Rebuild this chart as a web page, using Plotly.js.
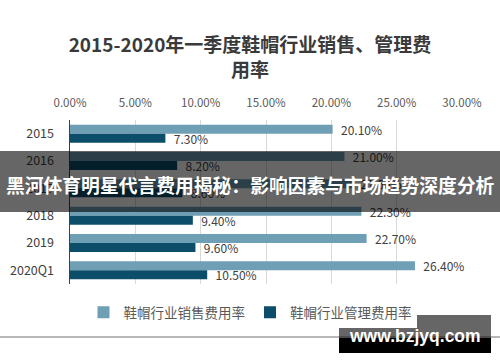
<!DOCTYPE html>
<html>
<head>
<meta charset="utf-8">
<script src="https://cdn.plot.ly/plotly-3.0.1.min.js"></script>
<style>html,body{margin:0;padding:0;background:#fff;}#chart{width:500px;height:362px;}</style>
</head>
<body>
<div id="chart"></div>
<script>
const categories = ['2015', '2016', '2017', '2018', '2019', '2020Q1'];
const salesRate = [20.1, 21.0, 21.6, 22.3, 22.7, 26.4];
const mgmtRate = [7.3, 8.2, 8.6, 9.4, 9.6, 10.5];
const seriesNames = ['鞋帽行业销售费用率', '鞋帽行业管理费用率'];
const xTicks = [0, 5, 10, 15, 20, 25, 30];
const xTickText = ['0.00%', '5.00%', '10.00%', '15.00%', '20.00%', '25.00%', '30.00%'];
const titleText = '2015-2020年一季度鞋帽行业销售、管理费<br>用率';
const bannerText = '黑河体育明星代言费用揭秘：影响因素与市场趋势深度分析';
const watermarkText = 'www.bzjyq.com';

const FONT = '"Noto Sans CJK SC", "Noto Sans", sans-serif';
const W = 500, H = 362, ML = 70, MR = 38, MT = 120, MB = 78;
const PW = W - ML - MR, PH = H - MT - MB;
const px = x => (x - ML) / PW;
const py = y => (H - MB - y) / PH;
const PAD = '\u00a0\u00a0';

const traces = [
  {type: 'bar', orientation: 'h', name: seriesNames[0], y: categories, x: salesRate,
   marker: {color: '#6f9fb4'}, texttemplate: PAD + '%{x:.2f}%',
   textposition: 'outside', cliponaxis: false, constraintext: 'none',
   textfont: {family: FONT, size: 12, color: '#404040'}, hoverinfo: 'x+y'},
  {type: 'bar', orientation: 'h', name: seriesNames[1], y: categories, x: mgmtRate,
   marker: {color: '#0c4e69'}, texttemplate: PAD + '%{x:.2f}%',
   textposition: 'outside', cliponaxis: false, constraintext: 'none',
   textfont: {family: FONT, size: 12, color: '#404040'}, hoverinfo: 'x+y'}
];

const layout = {
  width: W, height: H,
  margin: {l: ML, r: MR, t: MT, b: MB},
  paper_bgcolor: '#fff', plot_bgcolor: '#fff',
  font: {family: FONT, color: '#404040'},
  uniformtext: {mode: false},
  title: {text: titleText, font: {family: FONT, size: 19, color: '#3a3a3a', weight: 'bold'},
          x: 0.5, xanchor: 'center', xref: 'container', y: 0.855, yanchor: 'top', yref: 'container'},
  barmode: 'group', bargap: 0.34, bargroupgap: 0,
  xaxis: {side: 'top', range: [0, 30], tickvals: xTicks, ticktext: xTickText,
          showgrid: true, gridcolor: '#d9d9d9', gridwidth: 1, zeroline: false, showline: false,
          ticks: '', ticklabelstandoff: 10, tickfont: {family: FONT, size: 11.5, color: '#595959'}, fixedrange: true},
  yaxis: {autorange: 'reversed', type: 'category', showgrid: false, zeroline: false,
          showline: true, linecolor: '#404040', linewidth: 1.5, ticks: '', ticklabelstandoff: 12,
          tickfont: {family: FONT, size: 12.5, color: '#404040'}, fixedrange: true},
  showlegend: true,
  legend: {orientation: 'h', x: 0.5, xanchor: 'center', xref: 'container',
           y: 1 - 297 / H, yanchor: 'top', yref: 'container',
           font: {family: FONT, size: 13.5, color: '#595959'}, itemwidth: 30, traceorder: 'normal'},
  shapes: [
    {type: 'line', xref: 'paper', yref: 'paper', x0: px(0), x1: px(W), y0: py(337), y1: py(337),
     line: {color: '#a0a0a0', width: 1.5}, layer: 'above'},
    {type: 'rect', xref: 'paper', yref: 'paper', x0: px(0), x1: px(W), y0: py(212), y1: py(151),
     fillcolor: 'rgba(0,0,0,0.6)', line: {width: 0}, layer: 'above'},
    {type: 'rect', xref: 'paper', yref: 'paper', x0: px(339), x1: px(491), y0: py(338), y1: py(315),
     fillcolor: 'rgba(0,0,0,0.6)', line: {width: 0}, layer: 'above'},
    {type: 'rect', xref: 'paper', yref: 'paper', x0: px(339), x1: px(491), y0: py(353), y1: py(338),
     fillcolor: '#000', line: {width: 0}, layer: 'above'}
  ],
  annotations: [
    {text: bannerText, xref: 'paper', yref: 'paper', x: px(250), y: py(184), xanchor: 'center', yanchor: 'middle',
     showarrow: false, font: {family: FONT, size: 18.8, color: '#fff', weight: 'bold'}},
    {text: watermarkText, xref: 'paper', yref: 'paper', x: px(415), y: py(336), xanchor: 'center', yanchor: 'middle',
     showarrow: false, font: {family: '"Liberation Sans", Arial, sans-serif', size: 17.5, color: '#fff', weight: 'bold'}}
  ]
};

Plotly.newPlot('chart', traces, layout, {displayModeBar: false, staticPlot: true});
</script>
</body>
</html>
